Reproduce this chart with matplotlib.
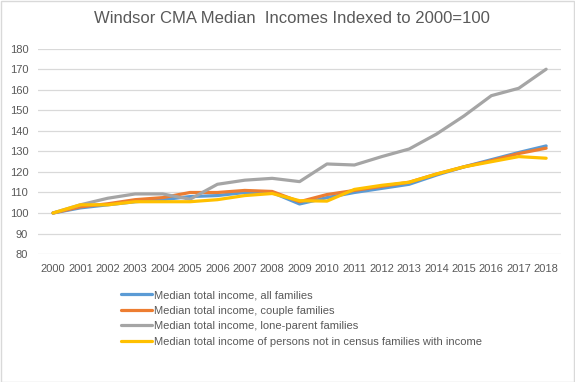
import matplotlib.pyplot as plt

# 年份與各系列指數 (2000=100)
years = list(range(2000, 2019))
all_families = [100, 102.5, 104, 105.5, 106.5, 108, 108.5, 110, 110, 104.4, 107.5,
                110, 112, 114, 118.5, 122.5, 126, 129.5, 132.7]
couple_families = [100, 103, 104.5, 106.5, 107.5, 110, 110, 111, 110.5, 105.5, 109,
                   111, 113, 115, 119, 122.5, 125.5, 129, 131.6]
lone_parent = [100, 104, 107.2, 109.3, 109.3, 106.7, 114, 116, 116.9, 115.3, 123.9,
               123.4, 127.5, 131.2, 138.5, 147.3, 157.2, 160.8, 170.1]
non_census = [100, 104, 104, 105.5, 105.5, 105.5, 106.5, 108.5, 109.5, 106, 105.8,
              111.5, 113.5, 115, 119, 122.5, 125, 127.5, 126.7]

labels = ["Median total income, all families",
          "Median total income, couple families",
          "Median total income, lone-parent families",
          "Median total income of persons not in census families with income"]
colors = ["#5B9BD5", "#ED7D31", "#A5A5A5", "#FFC000"]
yticks = list(range(80, 190, 10))

txt = "#595959"
plt.rcParams['font.family'] = ['Liberation Sans', 'DejaVu Sans']

fig = plt.figure(figsize=(5.75, 3.82), dpi=100)
ax = fig.add_axes([0.066, 0.335, 0.91, 0.537])

series = [all_families, couple_families, lone_parent, non_census]
for vals, lab, c in zip(series, labels, colors):
    ax.plot(years, vals, color=c, lw=2.3, label=lab, solid_capstyle='round')

ax.set_ylim(80, 180)
ax.set_yticks(yticks)
ax.set_xlim(1999.45, 2018.55)
ax.set_xticks(years)
ax.set_xticklabels([str(y) for y in years])
ax.grid(axis='y', color="#D9D9D9", lw=0.9)
ax.set_axisbelow(True)
for s in ax.spines.values():
    s.set_visible(False)
ax.tick_params(length=0, labelsize=8, colors=txt, pad=7)

fig.text(0.508, 0.952, "Windsor CMA Median  Incomes Indexed to 2000=100",
         ha='center', va='center', fontsize=12, color=txt)

fig.legend(loc='upper left', bbox_to_anchor=(0.203, 0.252), frameon=False,
           fontsize=8, labelcolor=txt, handlelength=2.8, handletextpad=0.15,
           labelspacing=0.5, borderaxespad=0)

# 外框
fig.patches.append(plt.Rectangle((0.001, 0.001), 0.997, 0.997, transform=fig.transFigure,
                                 fill=False, edgecolor="#D9D9D9", lw=1))

fig.savefig("out.png", dpi=100)
